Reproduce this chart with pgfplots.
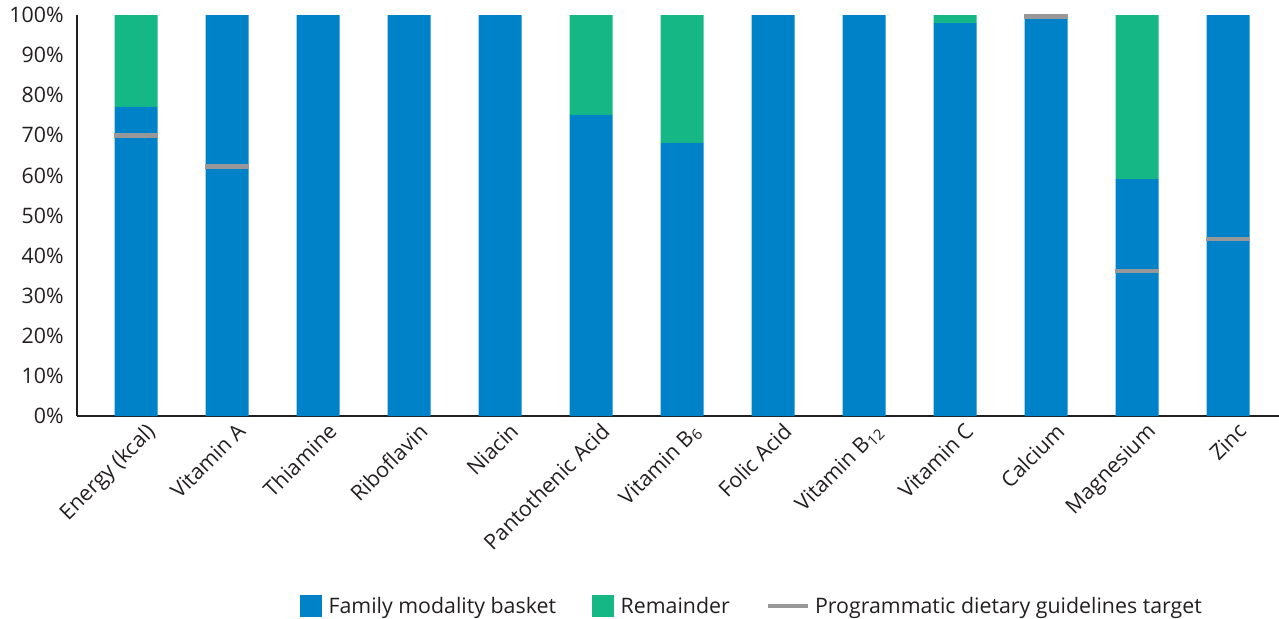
\documentclass[border=0pt]{standalone}
\usepackage{pgfplots}
\pgfplotsset{compat=1.18}
\usepackage{fontspec}
\setmainfont{Open Sans}
\definecolor{fblue}{RGB}{0,130,200}
\definecolor{fgreen}{RGB}{21,184,133}
\definecolor{tgray}{RGB}{152,152,152}
\definecolor{txt}{RGB}{35,31,32}
\begin{document}
\begin{tikzpicture}[font=\fontsize{16pt}{19pt}\selectfont]
\begin{axis}[
  name=main,
  scale only axis, width=901.5pt, height=300.75pt,
  xmin=-0.65, xmax=12.56, ymin=0, ymax=100,
  ybar stacked, bar width=32.25pt,
  axis x line*=bottom, axis y line*=left,
  axis line style={line width=2.2pt, color=txt, -},
  xtick={0,...,12},
  xticklabels={Energy (kcal),Vitamin A,Thiamine,Riboflavin,Niacin,Pantothenic Acid,Vitamin B\textsubscript{6},Folic Acid,Vitamin B\textsubscript{12},Vitamin C,Calcium,Magnesium,Zinc},
  ytick={0,10,...,100},
  yticklabels={0\%,10\%,20\%,30\%,40\%,50\%,60\%,70\%,80\%,90\%,100\%},
  major tick length=0pt,
  xticklabel style={rotate=45, anchor=north east, text=txt, xshift=5pt, yshift=-4pt, font=\fontsize{16pt}{19pt}\selectfont},
  yticklabel style={text=txt, xshift=-6.5pt, font=\fontsize{16pt}{19pt}\selectfont},
  legend style={draw=none, fill=none, inner sep=0pt, at={(axis description cs:0,0)}, anchor=west,
    xshift=167pt, yshift=-142.5pt, legend columns=3, text=txt,
    font=\fontsize{16pt}{19pt}\selectfont,
    /tikz/every even column/.append style={column sep=25pt}},
]
\addplot[fill=fblue, draw=none,
  legend image code/.code={\fill[fblue] (0pt,-8.25pt) rectangle (16.5pt,8.25pt); \path (19.5pt,0pt);}]
  coordinates {(0,77.1) (1,100) (2,100) (3,100) (4,100) (5,75.1) (6,68.1) (7,100) (8,100) (9,98.0) (10,100) (11,59.1) (12,100)};
\addlegendentry{Family modality basket}
\addplot[fill=fgreen, draw=none,
  legend image code/.code={\fill[fgreen] (0pt,-8.25pt) rectangle (16.5pt,8.25pt); \path (19.5pt,0pt);}]
  coordinates {(0,22.9) (1,0) (2,0) (3,0) (4,0) (5,24.9) (6,31.9) (7,0) (8,0) (9,2.0) (10,0) (11,40.9) (12,0)};
\addlegendentry{Remainder}
\addlegendimage{legend image code/.code={\draw[tgray, line width=3.5pt] (0pt,0pt) -- (30pt,0pt); \path (33pt,0pt);}}
\addlegendentry{Programmatic dietary guidelines target}
\end{axis}
\begin{axis}[
  scale only axis, width=901.5pt, height=300.75pt,
  xmin=-0.65, xmax=12.56, ymin=0, ymax=100,
  hide axis, clip=false,
]
\addplot[only marks, mark=-, mark size=16.4pt, mark options={line width=3.5pt, draw=tgray}]
  coordinates {(0,70.0) (1,62.2) (10,99.7) (11,36.2) (12,44.1)};
\end{axis}
\pgfresetboundingbox
\useasboundingbox (main.south west) ++(-57.75pt,-151.5pt) rectangle ([yshift=11.25pt]main.north east);
\end{tikzpicture}
\end{document}
